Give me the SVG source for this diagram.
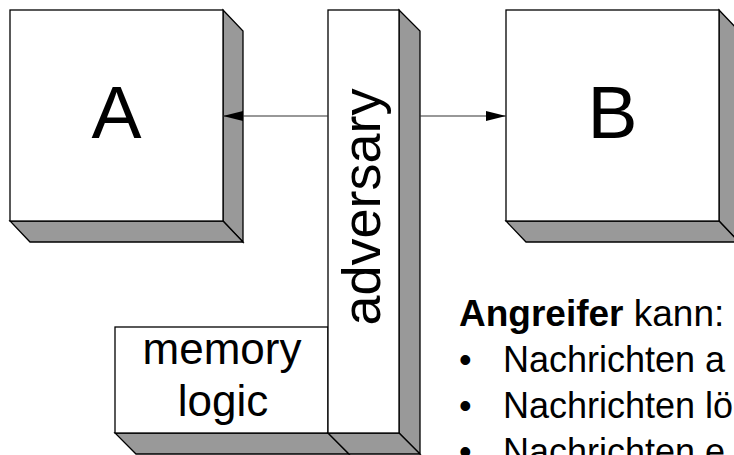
<svg xmlns="http://www.w3.org/2000/svg" width="734" height="455" viewBox="0 0 734 455">
<defs>
<style>
.front{fill:#fff;stroke:#000;stroke-width:1.3}
.side{fill:#999;stroke:#000;stroke-width:1.3;stroke-linejoin:miter}
.big{font-family:"Liberation Sans",Arial,sans-serif;fill:#000}
.conn{stroke:#333;stroke-width:1.2;fill:none}
</style>
<marker id="arr" viewBox="0 0 20 10" refX="20" refY="5" markerWidth="20" markerHeight="10" markerUnits="userSpaceOnUse" orient="auto">
<path d="M0,0 L20,5 L0,10 z" fill="#000"/>
</marker>
</defs>
<rect width="734" height="455" fill="#fff"/>
<g id="nodeA">
<polygon class="side" points="223,10 243,31 243,242 223,221"/>
<polygon class="side" points="10,221 223,221 243,242 30,242"/>
<rect class="front" x="10" y="10" width="213" height="211"/>
<text class="big" x="116.5" y="138" font-size="75" text-anchor="middle">A</text>
</g>
<g id="nodeB">
<polygon class="side" points="719,10 739,31 739,242 719,221"/>
<polygon class="side" points="506,221 719,221 739,242 526,242"/>
<rect class="front" x="506" y="10" width="213" height="211"/>
<text class="big" x="612.5" y="138" font-size="75" text-anchor="middle">B</text>
</g>
<g id="memory">
<polygon class="side" points="115,433 328,433 349,454 136,454"/>
<rect class="front" x="115" y="327" width="213" height="106"/>
<text class="big" x="222" y="364" font-size="44" text-anchor="middle">memory</text>
<text class="big" x="223" y="416" font-size="44" text-anchor="middle">logic</text>
</g>
<g id="adversary">
<polygon class="side" points="399,10 420,31 420,454 399,433"/>
<polygon class="side" points="328,433 399,433 420,454 349,454"/>
<rect class="front" x="328" y="10" width="71" height="423"/>
<text class="big" transform="translate(380,207) rotate(-90)" x="0" y="0" font-size="54" text-anchor="middle">adversary</text>
</g>
<g id="connectors">
<line class="conn" x1="328" y1="116" x2="223" y2="116" marker-end="url(#arr)"/>
<line class="conn" x1="420" y1="116" x2="506" y2="116" marker-end="url(#arr)"/>
</g>
<g id="notes" font-family="'Liberation Sans',Arial,sans-serif" font-size="36" fill="#000">
<text x="459" y="326" font-size="37"><tspan font-weight="bold">Angreifer</tspan> kann:</text>
<text x="459" y="372">•</text><text x="503" y="372">Nachrichten a</text>
<text x="459" y="418">•</text><text x="503" y="418">Nachrichten lö</text>
<text x="459" y="464">•</text><text x="503" y="464">Nachrichten e</text>
</g>
</svg>
